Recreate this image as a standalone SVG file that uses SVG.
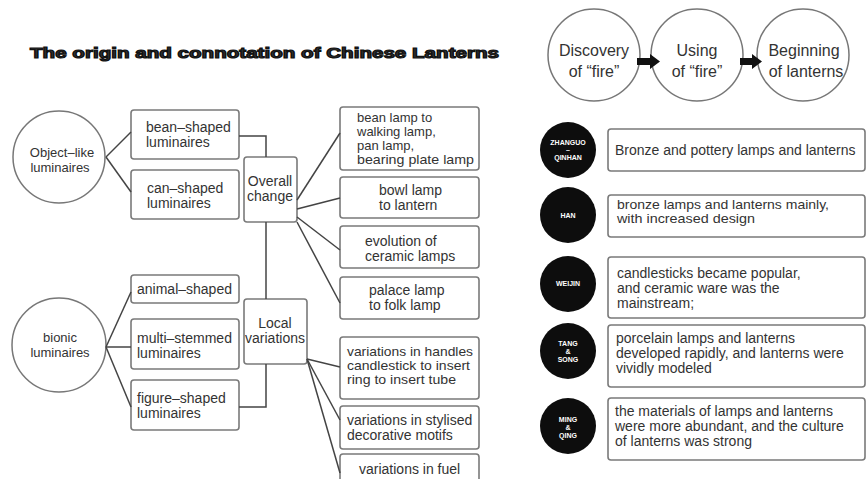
<svg xmlns="http://www.w3.org/2000/svg" width="867" height="479" viewBox="0 0 867 479">
<style>
text{font-family:"Liberation Sans",Arial,sans-serif;fill:#333;font-size:14px}
.sm{font-size:13px}
.box{fill:#fff;stroke:#7a7a7a;stroke-width:1.6}
.circ{fill:#fff;stroke:#777;stroke-width:1.5}
.dot{fill:#0d0d0d}
.wt{fill:#fff;font-size:7px;text-anchor:middle;font-weight:bold}
.mid{text-anchor:middle}
.big{font-size:16px}
.con line,.con polyline{stroke:#444;stroke-width:1.5;fill:none}
.arr{fill:#111}
</style>
<rect width="867" height="479" fill="#fff"/>
<text x="30" y="58" font-size="18.5" font-weight="bold" fill="#111" stroke="#111" stroke-width="1.1" textLength="469" lengthAdjust="spacingAndGlyphs">The origin and connotation of Chinese Lanterns</text>

<g id="object-like">
<circle class="circ" cx="59" cy="157" r="46"/>
<text class="mid sm" x="62" y="157">Object–like</text>
<text class="mid sm" x="60" y="172">luminaires</text>
</g>
<g id="bionic">
<circle class="circ" cx="59" cy="345" r="47"/>
<text class="mid sm" x="60" y="342">bionic</text>
<text class="mid sm" x="60" y="357">luminaires</text>
</g>
<g id="bean-shaped">
<rect class="box" x="131" y="110" width="108" height="49" rx="3"/>
<text x="146" y="132">bean–shaped</text>
<text x="146" y="147">luminaires</text>
</g>
<g id="can-shaped">
<rect class="box" x="131" y="170" width="108" height="49" rx="3"/>
<text x="147" y="193">can–shaped</text>
<text x="147" y="208">luminaires</text>
</g>
<g id="overall-change">
<rect class="box" x="244" y="157" width="53" height="65" rx="3"/>
<text class="mid" x="270" y="186">Overall</text>
<text class="mid" x="270" y="201">change</text>
</g>
<g id="animal-shaped">
<rect class="box" x="131" y="275" width="108" height="28" rx="3"/>
<text x="137" y="294">animal–shaped</text>
</g>
<g id="multi-stemmed">
<rect class="box" x="131" y="319" width="108" height="50" rx="3"/>
<text x="137" y="343">multi–stemmed</text>
<text x="137" y="358">luminaires</text>
</g>
<g id="figure-shaped">
<rect class="box" x="131" y="380" width="108" height="50" rx="3"/>
<text x="137" y="403">figure–shaped</text>
<text x="137" y="418">luminaires</text>
</g>
<g id="local-variations">
<rect class="box" x="244" y="299" width="63" height="65" rx="3"/>
<text class="mid" x="275" y="328">Local</text>
<text class="mid" x="275" y="343">variations</text>
</g>
<g id="bean-lamp">
<rect class="box" x="340" y="107" width="139" height="63" rx="3"/>
<text class="sm" x="357" y="122">bean lamp to</text>
<text class="sm" x="357" y="136">walking lamp,</text>
<text class="sm" x="357" y="150">pan lamp,</text>
<text class="sm" x="357" y="164" textLength="117" lengthAdjust="spacingAndGlyphs">bearing plate lamp</text>
</g>
<g id="bowl-lamp">
<rect class="box" x="340" y="177" width="139" height="41" rx="3"/>
<text x="379" y="195">bowl lamp</text>
<text x="379" y="210">to lantern</text>
</g>
<g id="ceramic">
<rect class="box" x="340" y="226" width="139" height="42" rx="3"/>
<text x="365" y="246">evolution of</text>
<text x="365" y="261">ceramic lamps</text>
</g>
<g id="palace">
<rect class="box" x="340" y="277" width="139" height="42" rx="3"/>
<text x="369" y="295">palace lamp</text>
<text x="369" y="310">to folk lamp</text>
</g>
<g id="handles">
<rect class="box" x="340" y="337" width="139" height="62" rx="3"/>
<text class="sm" x="347" y="356" textLength="126" lengthAdjust="spacingAndGlyphs">variations in handles</text>
<text class="sm" x="347" y="370" textLength="123" lengthAdjust="spacingAndGlyphs">candlestick to insert</text>
<text class="sm" x="347" y="384" textLength="109" lengthAdjust="spacingAndGlyphs">ring to insert tube</text>
</g>
<g id="stylised">
<rect class="box" x="340" y="406" width="139" height="43" rx="3"/>
<text x="347" y="425">variations in stylised</text>
<text x="347" y="440">decorative motifs</text>
</g>
<g id="fuel">
<rect class="box" x="340" y="454" width="139" height="40" rx="3"/>
<text x="359" y="474">variations in fuel</text>
</g>

<g id="discovery">
<circle class="circ" cx="594" cy="55" r="46"/>
<text class="mid big" x="594" y="56">Discovery</text>
<text class="mid big" x="594" y="77">of “fire”</text>
</g>
<g id="using">
<circle class="circ" cx="697" cy="55" r="46"/>
<text class="mid big" x="697" y="56">Using</text>
<text class="mid big" x="697" y="77">of “fire”</text>
</g>
<g id="beginning">
<circle class="circ" cx="803" cy="55" r="46"/>
<text class="mid big" x="804" y="56">Beginning</text>
<text class="mid big" x="806" y="77">of lanterns</text>
</g>

<g id="zhanguo">
<circle class="dot" cx="568" cy="150" r="28"/>
<text class="wt" x="568" y="145">ZHANGUO</text>
<text class="wt" x="568" y="152">–</text>
<text class="wt" x="568" y="160">QINHAN</text>
<rect class="box" x="608" y="129" width="257" height="42" rx="3"/>
<text x="615" y="155">Bronze and pottery lamps and lanterns</text>
</g>
<g id="han">
<circle class="dot" cx="568" cy="215" r="28"/>
<text class="wt" x="568" y="218">HAN</text>
<rect class="box" x="608" y="195" width="257" height="42" rx="3"/>
<text class="sm" x="617" y="209" textLength="212" lengthAdjust="spacingAndGlyphs">bronze lamps and lanterns mainly,</text>
<text class="sm" x="617" y="223" textLength="138" lengthAdjust="spacingAndGlyphs">with increased design</text>
</g>
<g id="weijin">
<circle class="dot" cx="568" cy="284" r="28"/>
<text class="wt" x="568" y="286">WEIJIN</text>
<rect class="box" x="608" y="257" width="257" height="61" rx="3"/>
<text x="617" y="278">candlesticks became popular,</text>
<text x="617" y="293">and ceramic ware was the</text>
<text x="617" y="308">mainstream;</text>
</g>
<g id="tang-song">
<circle class="dot" cx="568" cy="351" r="28"/>
<text class="wt" x="568" y="346">TANG</text>
<text class="wt" x="568" y="354">&amp;</text>
<text class="wt" x="568" y="362">SONG</text>
<rect class="box" x="608" y="325" width="257" height="62" rx="3"/>
<text x="616" y="343">porcelain lamps and lanterns</text>
<text x="616" y="358">developed rapidly, and lanterns were</text>
<text x="616" y="373">vividly modeled</text>
</g>
<g id="ming-qing">
<circle class="dot" cx="568" cy="426" r="28"/>
<text class="wt" x="568" y="422">MING</text>
<text class="wt" x="568" y="430">&amp;</text>
<text class="wt" x="568" y="438">QING</text>
<rect class="box" x="608" y="398" width="257" height="62" rx="3"/>
<text x="615" y="416">the materials of lamps and lanterns</text>
<text x="615" y="431">were more abundant, and the culture</text>
<text x="615" y="446">of lanterns was strong</text>
</g>

<g class="con" id="connectors">
<line x1="106" y1="157" x2="131" y2="132"/>
<line x1="106" y1="157" x2="131" y2="192"/>
<line x1="106" y1="347" x2="131" y2="292"/>
<line x1="106" y1="347" x2="131" y2="347"/>
<line x1="106" y1="347" x2="131" y2="407"/>
<polyline points="239,136 266,136 266,157"/>
<line x1="266" y1="222" x2="266" y2="299"/>
<polyline points="266,364 266,407 239,407"/>
<line x1="297" y1="200" x2="340" y2="133"/>
<line x1="297" y1="209" x2="340" y2="198"/>
<line x1="297" y1="217" x2="340" y2="250"/>
<line x1="297" y1="222" x2="340" y2="303"/>
<line x1="307" y1="359" x2="340" y2="367"/>
<line x1="307" y1="359" x2="340" y2="420"/>
<line x1="307" y1="359" x2="340" y2="473"/>
<path class="arr" d="M637,58 L650,58 L650,54 L660,61.5 L650,69 L650,65 L637,65 Z"/>
<path class="arr" d="M740,58 L752,58 L752,54 L762,61.5 L752,69 L752,65 L740,65 Z"/>
</g>
</svg>
